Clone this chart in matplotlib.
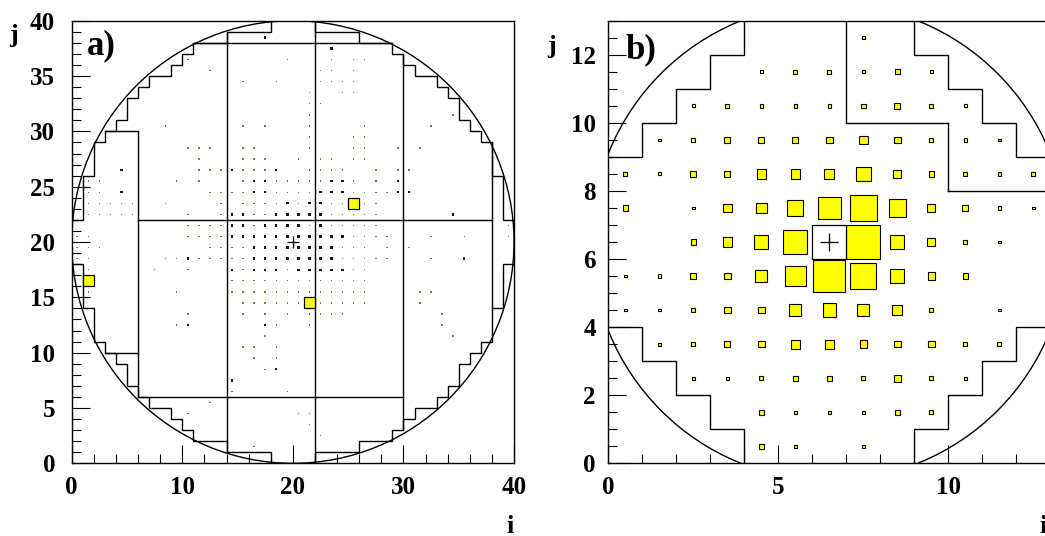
import numpy as np
import matplotlib
matplotlib.use("Agg")
import matplotlib.pyplot as plt
from matplotlib.patches import Rectangle, Circle
from matplotlib.ticker import MultipleLocator

plt.rcParams['font.family'] = ['Liberation Serif', 'DejaVu Serif']
plt.rcParams['font.weight'] = 'bold'

# ---------------------------------------------------------------- panel a
# 40 x 40 cell map: row j -> columns i holding a small deposit
a_faint = {
    36: [10, 19, 23, 25, 26],
    35: [12, 22, 23, 25],
    34: [15, 18, 22, 23, 24, 25],
    33: [21, 24, 25],
    32: [21, 22],
    31: [21, 34],
    30: [8, 15, 17, 21, 26, 32],
    29: [21, 25, 26],
    28: [10, 11, 12, 15, 16, 21, 25, 26, 29, 31],
    27: [11, 15, 16, 17, 20, 22, 23, 25, 26],
    26: [11, 12, 13, 15, 16, 17, 21, 22, 23, 24, 27, 29, 30],
    25: [1, 2, 9, 11, 15, 18, 19, 20, 21, 22, 25, 27],
    24: [1, 2, 12, 13, 14, 15, 18, 19, 20, 21, 25, 26, 27, 28],
    23: [1, 2, 3, 4, 5, 8, 13, 15, 16, 17, 18, 20, 23, 24, 26, 27],
    22: [1, 2, 3, 4, 5, 10, 13, 16, 17, 23, 24, 25, 26, 27],
    21: [10, 11, 12, 13, 16, 21, 23, 24, 25, 26, 27, 39],
    20: [0, 1, 10, 11, 12, 13, 25, 26, 27, 28, 32, 35, 39],
    19: [0, 1, 2, 12, 13, 14, 15, 24, 25, 26, 28, 30],
    18: [0, 1, 8, 9, 11, 12, 13, 14, 15, 24, 25, 26, 27, 28, 32],
    17: [1, 7, 10, 15, 19, 25, 26],
    16: [14, 15, 16, 17, 18, 19, 20, 21, 22, 23, 24, 25, 26],
    15: [1, 9, 14, 15, 16, 17, 18, 19, 20, 21, 22, 23, 24, 25, 26, 31, 32],
    14: [15, 16, 17, 18, 19, 20, 22, 23, 24, 25, 26, 31],
    13: [10, 15, 17, 19, 21, 22, 23, 24, 33],
    12: [9, 18, 21, 33],
    11: [17, 34],
    10: [15, 16, 18],
    9: [16, 18],
    8: [17],
    6: [14, 19],
    5: [12],
    4: [10, 20, 21],
    3: [21],
    2: [22],
    1: [16],
}
a_strong = {
    38: [17],
    37: [23],
    26: [4, 14, 18],
    25: [16, 17, 23, 24, 29],
    24: [4, 16, 17, 22, 23, 24, 29, 30],
    23: [19, 21, 22],
    22: [14, 15, 18, 19, 20, 21, 22, 34],
    21: [14, 15, 17, 18, 19, 20, 22],
    20: [14, 15, 16, 17, 18, 19, 20, 21, 22, 23, 24],
    19: [16, 17, 18, 19, 20, 21, 22, 23],
    18: [10, 16, 17, 18, 19, 20, 21, 22, 23, 35],
    17: [14, 16, 17, 18, 20, 21, 22, 23, 24],
    12: [10, 17],
    8: [18],
    7: [14],
}
a_hits = [(1, 16), (25, 23), (21, 14)]
E_FAINT, E_STRONG, E_HIT = 1.7, 4.5, 100.0
a_impact = (20.0, 20.0)

# detector edge, upper-left quadrant; the rest follows by mirror symmetry
a_edge = [(0, 22), (1, 22), (1, 26), (2, 26), (2, 29), (3, 29), (3, 30), (4, 30),
          (4, 31), (5, 31), (5, 33), (6, 33), (6, 34), (7, 34), (7, 35), (9, 35),
          (9, 36), (10, 36), (10, 37), (11, 37), (11, 38), (14, 38), (14, 39),
          (18, 39), (18, 40)]
# module boundaries: (level, start, stop)
a_hlines = [(38, 11, 29), (22, 6, 38), (6, 6, 30), (30, 3, 6), (10, 3, 6)]
a_vlines = [(6, 6, 30), (14, 1, 39), (22, 0, 40), (30, 3, 37), (38, 14, 29)]

# ---------------------------------------------------------------- panel b
# 13 x 13 cell contents around the seed, rows from j = 12 down to j = 0
b_values = [
    [0, 0, 0, 0, 0, 0, 0, 0.6, 0, 0, 0, 0, 0],
    [0, 0, 0, 0, 0.6, 1.4, 1.4, 0.6, 1.9, 0.6, 0, 0, 0],
    [0, 0, 0.8, 1.6, 1.0, 1.0, 1.0, 1.9, 2.8, 1.6, 0.8, 0, 0],
    [0, 0.6, 1.4, 3.1, 3.1, 3.1, 3.8, 6.5, 3.8, 1.4, 1.0, 0.6, 0],
    [1.4, 0.8, 2.8, 3.1, 7.5, 7.5, 8.7, 18.6, 5.5, 2.5, 1.4, 1.0, 1.4],
    [2.5, 0, 0.6, 6.5, 9.8, 22.1, 44.4, 61.5, 26.0, 5.5, 2.8, 1.0, 0.6],
    [0, 0, 2.5, 7.5, 17.0, 49.8, 0, 100.0, 17.0, 5.5, 1.4, 0.6, 0],
    [0.6, 1.0, 2.8, 3.8, 12.5, 37.0, 88.6, 58.5, 17.0, 4.7, 2.5, 0, 0],
    [0.6, 0.6, 1.4, 3.8, 3.8, 12.5, 15.4, 12.5, 8.7, 1.4, 0, 0.6, 0],
    [0, 0.8, 1.4, 3.1, 3.8, 6.5, 7.5, 4.7, 3.8, 3.8, 1.4, 1.4, 0],
    [0, 0, 0.6, 0.6, 1.4, 1.9, 2.5, 1.4, 3.8, 1.4, 0.8, 0, 0],
    [0, 0, 0, 0, 1.9, 0.6, 0.6, 1.0, 1.9, 1.4, 0, 0, 0],
    [0, 0, 0, 0, 1.9, 0.6, 0, 0.6, 0, 0, 0, 0, 0],
]
b_vmax = 100.0
b_seed = (6, 6)
b_impact = (6.5, 6.5)
b_edge = [(0, 9), (1, 9), (1, 10), (2, 10), (2, 11), (3, 11), (3, 12), (4, 12), (4, 13)]
b_hlines = [(10, 7, 10), (8, 10, 13)]
b_vlines = [(7, 10, 13), (10, 8, 10)]

LW = 1.0
YELLOW = '#ffff00'
TICKFONT = 18


def draw_box(ax, i, j, value, vmax, face, edge, lw, aa=True):
    side = np.sqrt(value / vmax)
    ax.add_patch(Rectangle((i + 0.5 - side / 2, j + 0.5 - side / 2), side, side,
                           facecolor=face, edgecolor=edge, linewidth=lw,
                           antialiased=aa, zorder=3))


def draw_edge(ax, quad, n):
    q = np.asarray(quad, float)
    for fx in (False, True):
        for fy in (False, True):
            xs = n - q[:, 0] if fx else q[:, 0]
            ys = n - q[:, 1] if fy else q[:, 1]
            ax.plot(xs, ys, color='k', lw=LW, zorder=2, solid_joinstyle='miter')


def draw_modules(ax, hl, vl):
    for lev, a, b in hl:
        ax.plot([a, b], [lev, lev], color='k', lw=LW, zorder=2)
    for lev, a, b in vl:
        ax.plot([lev, lev], [a, b], color='k', lw=LW, zorder=2)


def style_axes(ax, n, xmaj, xmin, ymaj, ymin, ypad):
    ax.set_xlim(0, n)
    ax.set_ylim(0, n)
    ax.xaxis.set_major_locator(MultipleLocator(xmaj))
    ax.xaxis.set_minor_locator(MultipleLocator(xmin))
    ax.yaxis.set_major_locator(MultipleLocator(ymaj))
    ax.yaxis.set_minor_locator(MultipleLocator(ymin))
    ax.tick_params(which='both', direction='in', top=False, right=False,
                   width=0.8, labelsize=TICKFONT)
    ax.tick_params(which='major', length=13)
    ax.tick_params(which='minor', length=6.5)
    ax.tick_params(axis='x', which='major', pad=9)
    ax.tick_params(axis='y', which='major', pad=ypad)
    for s in ax.spines.values():
        s.set_linewidth(1.0)
    for lab in ax.get_xticklabels() + ax.get_yticklabels():
        lab.set_fontweight('bold')


fig = plt.figure(figsize=(10.45, 5.36), dpi=100)
axa = fig.add_axes([0.0686, 0.1356, 0.4233, 0.8257])
axb = fig.add_axes([0.5821, 0.1356, 0.4230, 0.8257])

# ---- panel a
style_axes(axa, 40, 10, 2, 5, 1, 12)
for j, cols in a_faint.items():
    for i in cols:
        draw_box(axa, i, j, E_FAINT, E_HIT, '#7d7d3a', 'none', 0)
for j, cols in a_strong.items():
    for i in cols:
        draw_box(axa, i, j, E_STRONG, E_HIT, '#151515', 'none', 0)
for i, j in a_hits:
    draw_box(axa, i, j, E_HIT, E_HIT, YELLOW, 'k', 0.9)
draw_edge(axa, a_edge, 40)
draw_modules(axa, a_hlines, a_vlines)
axa.add_patch(Circle((20, 20), 20, fill=False, edgecolor='k', lw=LW, zorder=4))
axa.plot(*a_impact, marker='+', color='k', ms=9, mew=0.9, zorder=5)
axa.text(0.035, 0.925, 'a)', transform=axa.transAxes, fontsize=25,
         fontweight='bold', va='baseline', ha='left', zorder=6)

# ---- panel b
style_axes(axb, 13, 5, 1, 2, 0.5, 9)
nrow = len(b_values)
for r, row in enumerate(b_values):
    j = nrow - 1 - r
    for i, v in enumerate(row):
        if v > 0:
            draw_box(axb, i, j, v, b_vmax, YELLOW, 'k', 0.8)
axb.add_patch(Rectangle(b_seed, 1, 1, facecolor='white', edgecolor='k',
                        linewidth=0.9, zorder=3))
draw_edge(axb, b_edge, 13)
draw_modules(axb, b_hlines, b_vlines)
axb.add_patch(Circle((6.5, 6.5), 7, fill=False, edgecolor='k', lw=LW, zorder=4))
axb.plot(*b_impact, marker='+', color='k', ms=13, mew=0.9, zorder=5)
axb.text(0.038, 0.916, 'b)', transform=axb.transAxes, fontsize=25,
         fontweight='bold', va='baseline', ha='left', zorder=6)

# axis titles
fig.text(0.0134, 0.933, 'j', fontsize=19, fontweight='bold', ha='center', va='center')
fig.text(0.528, 0.914, 'j', fontsize=19, fontweight='bold', ha='center', va='center')
fig.text(0.488, 0.018, 'i', fontsize=19, fontweight='bold', ha='center', va='center')
fig.text(0.998, 0.018, 'i', fontsize=19, fontweight='bold', ha='center', va='center')

fig.savefig('out.png', dpi=100)
